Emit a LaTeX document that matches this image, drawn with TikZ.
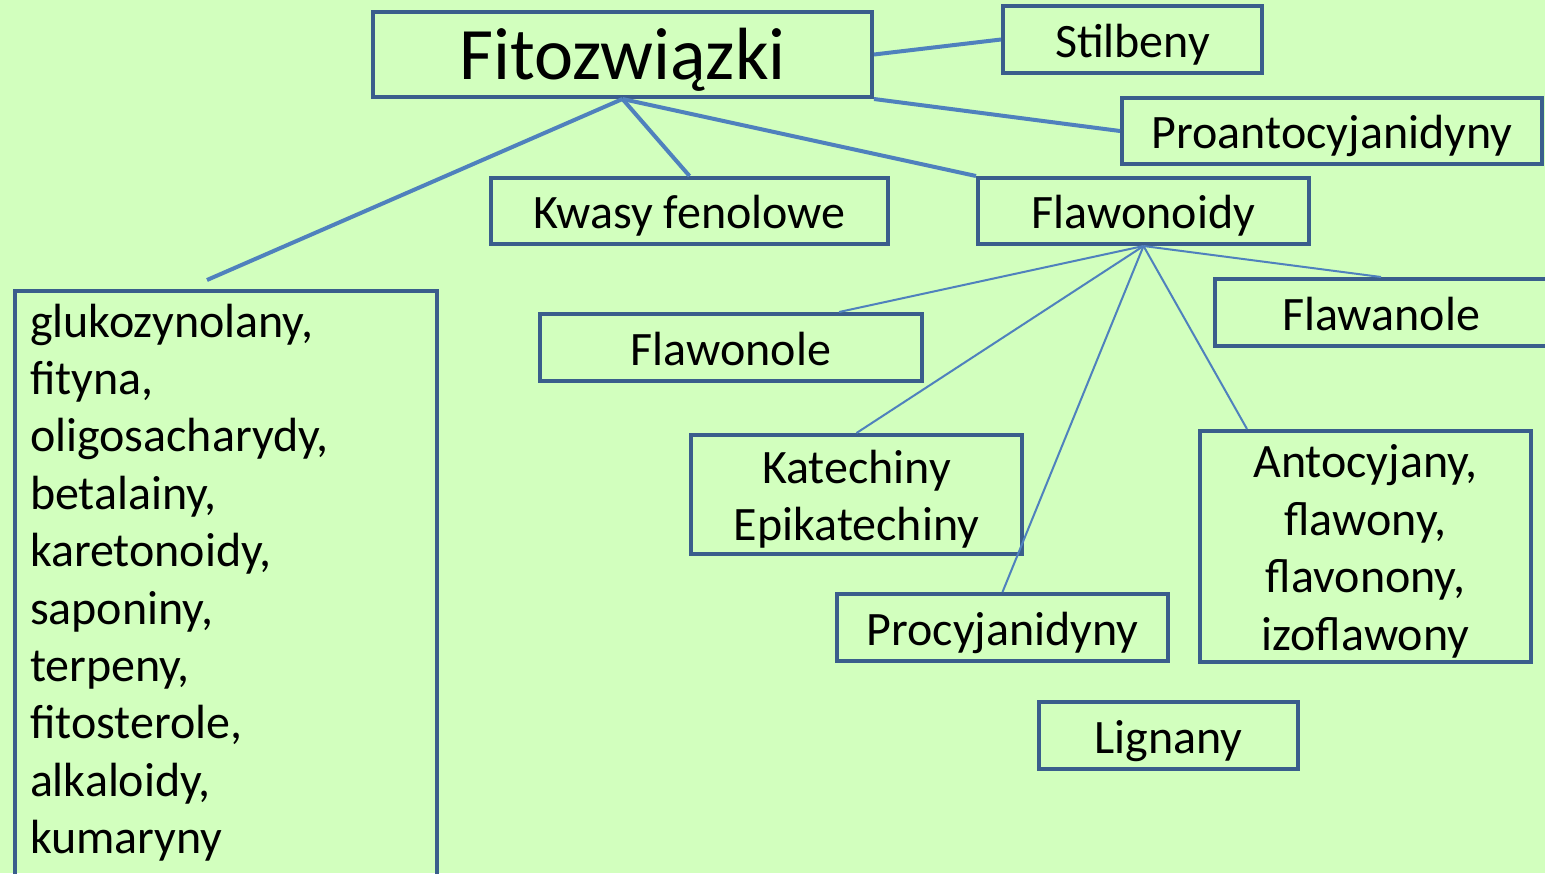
\documentclass[tikz,border=0pt]{standalone}
\usepackage{fontspec}
\setmainfont{Carlito}
\usetikzlibrary{calc}
\definecolor{bg}{RGB}{210,255,190}
\definecolor{boxline}{RGB}{58,94,140}
\definecolor{conn}{RGB}{79,129,189}
\newcommand\stt{\rule[-5pt]{0pt}{27.5pt}}
\newcommand\sttbig{\rule[-8pt]{0pt}{40.8pt}}
\tikzset{
  box/.style={draw=boxline, line width=2pt, inner sep=0pt, align=center,
    font=\fontsize{24}{28.7}\selectfont, text=black},
  thick conn/.style={draw=conn, line width=2pt},
  thin conn/.style={draw=conn, line width=1pt},
}
\begin{document}
\begin{tikzpicture}[x=0.5pt,y=-0.5pt]
\useasboundingbox (0,0) rectangle (1545,873);
\clip (0,0) rectangle (1545,873);
\fill[bg] (0,0) rectangle (1545,873);

\node[box, minimum width=249.5pt, minimum height=42.5pt, font=\fontsize{37}{44}\selectfont] (fito) at (622.5,54.5) {\sttbig Fitozwiązki};
\node[box, minimum width=129.5pt, minimum height=33.5pt] (stil) at (1132.5,39.5) {\stt Stilbeny};
\node[box, minimum width=210pt, minimum height=33pt] (proa) at (1332,131) {\stt Proantocyjanidyny};
\node[box, minimum width=198.5pt, minimum height=33pt] (kwasy) at (689.5,211) {\stt Kwasy fenolowe};
\node[box, minimum width=165.5pt, minimum height=33pt] (flaw) at (1143.5,211) {\stt Flawonoidy};
\node[box, minimum width=191pt, minimum height=33.5pt] (flawonole) at (731,347.5) {\stt Flawonole};
\node[box, minimum width=166pt, minimum height=33.5pt] (flawanole) at (1381,312.5) {\stt Flawanole};
\node[box, minimum width=165.5pt, minimum height=59.5pt] (kat) at (856.5,494.5) {\stt Katechiny\\\stt Epikatechiny};
\node[box, minimum width=165.5pt, minimum height=115.5pt] (anto) at (1365.5,546.5) {\stt Antocyjany,\\\stt flawony,\\\stt flavonony,\\\stt izoflawony};
\node[box, minimum width=165.5pt, minimum height=33.5pt] (proc) at (1002.5,627.5) {\stt Procyjanidyny};
\node[box, minimum width=129.5pt, minimum height=33.5pt] (lign) at (1168.5,735.5) {\stt Lignany};
\node[box, anchor=north west, align=left, text width=196pt, inner xsep=7.5pt, inner ysep=0.5pt] (misc) at (13,289)
  {\stt glukozynolany,\\\stt fityna,\\\stt oligosacharydy,\\\stt betalainy,\\\stt karetonoidy,\\\stt saponiny,\\\stt terpeny,\\\stt fitosterole,\\\stt alkaloidy,\\\rule[-20pt]{0pt}{27.5pt}kumaryny};

\coordinate (lend) at (207,280);

\draw[thick conn] (fito.east) -- (stil.west);
\draw[thick conn] (fito.south east) -- (proa.west);
\draw[thick conn] (fito.south) -- (lend);
\draw[thick conn] (fito.south) -- (kwasy.north);
\draw[thick conn] (fito.south) -- (flaw.north west);

\draw[thin conn] (flaw.south) -- (flawanole.north);
\draw[thin conn] (flaw.south) -- ($(flawonole.north west)!0.78!(flawonole.north east)$);
\draw[thin conn] (flaw.south) -- (kat.north);
\draw[thin conn] (flaw.south) -- (proc.north);
\draw[thin conn] (flaw.south) -- ($(anto.north west)+(49,0)$);
\end{tikzpicture}
\end{document}
